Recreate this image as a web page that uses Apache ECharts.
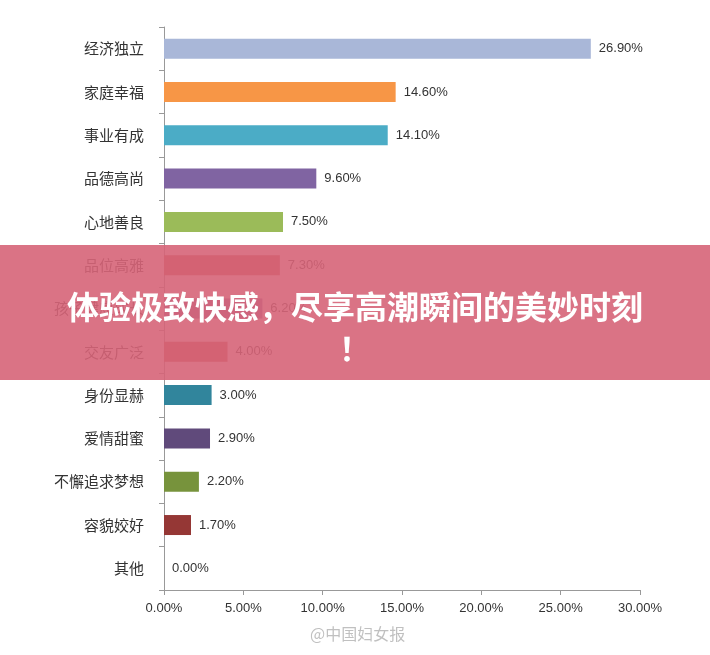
<!DOCTYPE html>
<html><head><meta charset="utf-8">
<script src="https://cdn.jsdelivr.net/npm/echarts@6/dist/echarts.min.js"></script>
<style>html,body{margin:0;background:#fff}#c{width:710px;height:655px}</style>
</head><body><div id="c"></div>
<script>
var categories = ['经济独立','家庭幸福','事业有成','品德高尚','心地善良','品位高雅','孩子健康成长','交友广泛','身份显赫','爱情甜蜜','不懈追求梦想','容貌姣好','其他'];
var values = [26.9, 14.6, 14.1, 9.6, 7.5, 7.3, 6.2, 4.0, 3.0, 2.9, 2.2, 1.7, 0.0];
var colors = ['#a9b7d8','#f79646','#4bacc6','#8064a2','#9bbb59','#c0504d','#8064a2','#c0504d','#31859c','#604a7b','#77933c','#953735','#999'];

var chart = echarts.init(document.getElementById('c'));
chart.setOption({
  animation: false,
  grid: {left: 164, right: 70, top: 27, bottom: 65},
  xAxis: {type: 'value', min: 0, max: 30, interval: 5,
    axisLine: {show: true, lineStyle: {color: '#999'}},
    axisTick: {show: true, lineStyle: {color: '#999'}},
    splitLine: {show: false},
    axisLabel: {formatter: function (v) { return v.toFixed(2) + '%'; }, color: '#333', fontSize: 13, margin: 12}
  },
  yAxis: {type: 'category', inverse: true, data: categories,
    axisLine: {lineStyle: {color: '#999'}},
    axisTick: {show: true, lineStyle: {color: '#999'}},
    axisLabel: {color: '#333', fontSize: 15, margin: 20, fontFamily: 'Noto Sans CJK SC'}
  },
  series: [{type: 'bar', barWidth: 20,
    data: values.map(function (v, i) { return {value: v, itemStyle: {color: colors[i]}}; }),
    label: {show: true, position: 'right', distance: 8, color: '#333', fontSize: 13,
      formatter: function (p) { return p.value.toFixed(2) + '%'; }}
  }],
  graphic: [
    {type: 'rect', left: 0, top: 245, z: 100, shape: {width: 710, height: 135}, style: {fill: 'rgba(214,100,120,0.9)'}},
    {type: 'text', left: 'center', top: 286, z: 101, style: {text: '体验极致快感，尽享高潮瞬间的美妙时刻\n！', fill: '#fff', font: 'bold 32px "Noto Sans CJK SC"', textAlign: 'center', lineHeight: 42}},
    {type: 'text', left: 310, top: 626, z: 101, style: {text: '@中国妇女报', fill: 'rgba(150,150,150,0.6)', font: '16px "Noto Sans CJK SC"'}}
  ]
});
</script></body></html>
